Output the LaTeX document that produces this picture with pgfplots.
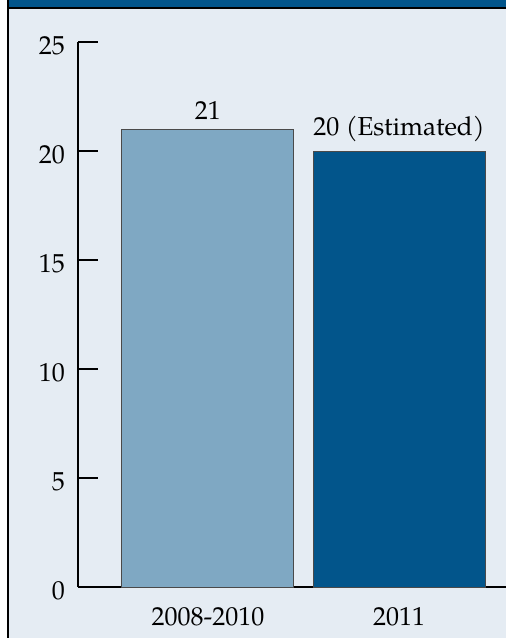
\documentclass[border=0pt]{standalone}
\usepackage{fontspec}
\setmainfont{TeX Gyre Pagella}
\usepackage{pgfplots}
\pgfplotsset{compat=1.18}
\definecolor{bgc}{HTML}{E5ECF3}
\definecolor{hdr}{HTML}{02558B}
\definecolor{barlight}{HTML}{7FA8C3}
\definecolor{bardark}{HTML}{02558B}
\definecolor{edgec}{HTML}{4A4A4A}
\begin{document}
\fontsize{13pt}{15pt}\selectfont
\begin{tikzpicture}
\useasboundingbox (0,0) rectangle (253pt,319pt);
\fill[white] (0,0) rectangle (253pt,319pt);
\fill[bgc] (4.5pt,0) rectangle (253pt,315pt);
\fill[hdr] (3.5pt,315pt) rectangle (253pt,319pt);
\begin{axis}[
  at={(39pt,25.5pt)}, anchor=south west,
  scale only axis, width=214pt, height=272.5pt,
  xmin=-0.6806, xmax=1.5602, ymin=0, ymax=25,
  axis x line=bottom, axis y line=left,
  axis line style={-, black, line width=0.8pt},
  ytick={0,5,10,15,20,25},
  xtick={0,1}, xticklabels={2008-2010,2011},
  x tick style={draw=none},
  y tick style={black, line width=0.8pt},
  tick align=inside, major tick length=10pt,
  /pgf/number format/assume math mode=true,
  tick label style={font=\fontsize{13pt}{15pt}\selectfont},
  xticklabel style={yshift=4.5pt},
  yticklabel style={xshift=-2pt, yshift=-2pt},
  ybar, bar width=86pt, bar shift=0pt,
  nodes near coords,
  every node near coord/.append style={font=\fontsize{13pt}{15pt}\selectfont, black},
  clip=false,
]
\addplot[fill=barlight, draw=edgec, line width=0.5pt] coordinates {(0,21)};
\addplot[fill=bardark, draw=edgec, line width=0.5pt,
  nodes near coords={20 (Estimated)}] coordinates {(1,20)};
\end{axis}
\draw[black, line width=1pt] (3.5pt,315pt) -- (253pt,315pt);
\draw[black, line width=1.2pt] (3.85pt,0) -- (3.85pt,319pt);
\end{tikzpicture}
\end{document}
